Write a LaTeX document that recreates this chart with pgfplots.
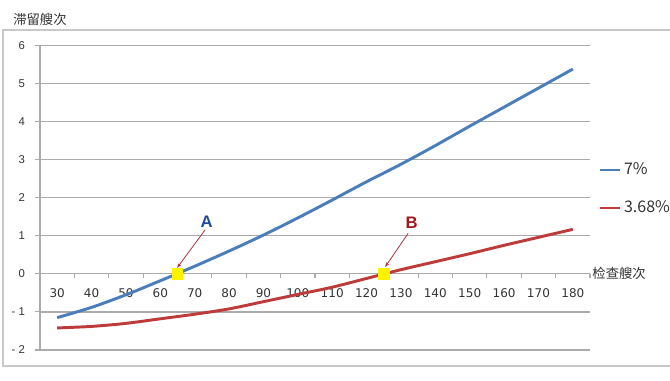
\documentclass[border=0pt]{standalone}
\usepackage{fontspec}
\setmainfont{DejaVu Sans}
\newfontfamily\cjk{Noto Sans CJK SC}
\newfontfamily\lib{Liberation Sans}
\usepackage{pgfplots}
\pgfplotsset{compat=1.18}
\usetikzlibrary{arrows.meta}
\definecolor{blueline}{HTML}{4A7EBB}
\definecolor{redline}{HTML}{BE3B3B}
\definecolor{gridgray}{HTML}{ABABAB}
\definecolor{framegray}{HTML}{C8C8C8}
\definecolor{alabel}{HTML}{1F4B99}
\definecolor{blabel}{HTML}{A3161E}
\definecolor{arrowred}{HTML}{A8323A}
\definecolor{markyellow}{HTML}{FFF200}
\begin{document}
\begin{tikzpicture}
\path[use as bounding box] (-30pt,-22.5pt) rectangle (472.5pt,262.5pt);
\draw[framegray, line width=1.1pt] (472.5pt,240pt) -- (-27.75pt,240pt) -- (-27.75pt,-12pt) -- (472.5pt,-12pt);
\begin{axis}[
  scale only axis, width=412.5pt, height=228.4pt,
  xmin=25, xmax=185, ymin=-2, ymax=6,
  axis x line=middle, axis y line=left,
  axis line style={gridgray, line width=0.9pt, -},
  hide obscured x ticks=false, hide obscured y ticks=false,
  clip=false,
  /pgf/number format/assume math mode=true,
  tick align=outside, major tick length=3.75pt,
  xtick={30,40,...,180},
  xtick style={draw=none},
  x tick label style={font=\fontsize{9}{10}\selectfont, text=black!80, yshift=-4pt},
  extra x ticks={35,45,...,185},
  extra x tick labels={},
  extra x tick style={xtick style={draw=gridgray, line width=0.8pt}, major tick length=3pt},
  ytick={-2,...,6}, yticklabels={- 2,- 1,0,1,2,3,4,5,6},
  y tick label style={font=\lib\fontsize{8.5}{10}\selectfont, text=black!80, xshift=-4pt},
  ytick style={draw=gridgray, line width=0.8pt},
  ymajorgrids, grid style={gridgray, line width=0.9pt},
  ylabel={\cjk 滞留艘次},
  every axis y label/.style={at={(axis description cs:0,1.084)}, anchor=center, font=\fontsize{10}{12}\selectfont, text=black!80},
  xlabel={\cjk 检查艘次},
  every axis x label/.style={at={(axis description cs:1.053,0.25)}, anchor=center, font=\fontsize{10}{12}\selectfont, text=black!80},
  legend style={at={(axis description cs:1.0164,0.624)}, anchor=north west, draw=none, fill=none, font=\cjk\fontsize{12}{14}\selectfont, text=black!80, inner sep=0pt, row sep=14pt},
  legend image code/.code={\draw[#1, line width=1.6pt] (0pt,0pt) -- (15pt,0pt);},
  legend cell align=left,
]
\addplot[blueline, line width=2.2pt, smooth] coordinates {
 (30,-1.15) (40,-0.88) (50,-0.55) (60,-0.18) (70,0.20) (80,0.60) (90,1.02) (100,1.47)
 (110,1.94) (120,2.42) (130,2.88) (140,3.37) (150,3.88) (160,4.38) (170,4.88) (180,5.38)};
\addlegendentry{7\%}
\addplot[redline, line width=2.2pt, smooth] coordinates {
 (30,-1.42) (40,-1.38) (50,-1.30) (60,-1.18) (70,-1.06) (80,-0.92) (90,-0.73) (100,-0.54)
 (110,-0.35) (120,-0.12) (130,0.11) (140,0.32) (150,0.53) (160,0.75) (170,0.96) (180,1.17)};
\addlegendentry{3.68\%}
\addplot[markyellow, only marks, mark=square*, mark size=3.8pt, mark options={draw=markyellow, fill=markyellow, yscale=1.15}, forget plot] coordinates {(65,0) (125,0)};
\draw[arrowred, line width=0.6pt, -{Stealth[length=3.5pt,width=2.5pt]}] (axis cs:73,1.153) -- (axis cs:64.9,0.16);
\draw[arrowred, line width=0.6pt, -{Stealth[length=3.5pt,width=2.5pt]}] (axis cs:132.1,1.066) -- (axis cs:125.4,0.18);
\node[font=\lib\bfseries\fontsize{12.5}{14}\selectfont, text=alabel] at (axis cs:73.5,1.371) {A};
\node[font=\lib\bfseries\fontsize{12.5}{14}\selectfont, text=blabel] at (axis cs:133.1,1.345) {B};
\end{axis}
\end{tikzpicture}
\end{document}
